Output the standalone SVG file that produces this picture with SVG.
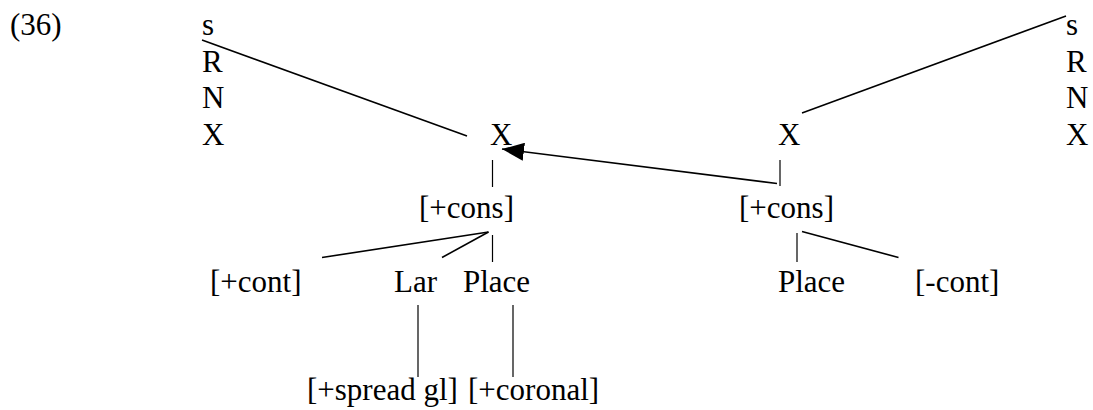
<svg xmlns="http://www.w3.org/2000/svg" width="1093" height="410" viewBox="0 0 1093 410">
  <style>
    text { font-family: "Liberation Serif", "Times New Roman", serif; font-size: 31px; fill: #000; }
    .ln { stroke: #000; stroke-width: 1.6; fill: none; }
    .bar { stroke: #000; stroke-width: 1.2; fill: none; }
  </style>
  <defs>
    <marker id="arrow" markerUnits="userSpaceOnUse" markerWidth="22" markerHeight="18" refX="22" refY="9" orient="auto">
      <path d="M0,0 L22,9 L0,18 z" fill="#000"/>
    </marker>
  </defs>
  <rect width="1093" height="410" fill="#fff"/>
  <text id="label" x="10" y="35" font-size="30">(36)</text>

  <g id="left-column">
    <text x="202" y="35">s</text>
    <text x="202" y="72">R</text>
    <text x="202" y="108">N</text>
    <text x="202" y="145">X</text>
  </g>
  <g id="right-column">
    <text x="1066" y="35">s</text>
    <text x="1066" y="72">R</text>
    <text x="1066" y="108">N</text>
    <text x="1066" y="145">X</text>
  </g>
  <g id="x-left"><text x="490" y="145">X</text></g>
  <g id="x-right"><text x="778" y="145">X</text></g>
  <g id="cons-left"><text x="419" y="218">[+cons]</text></g>
  <g id="cons-right"><text x="739" y="218">[+cons]</text></g>
  <g id="cont-plus"><text x="210" y="292">[+cont]</text></g>
  <g id="lar"><text x="394" y="292">Lar</text></g>
  <g id="place-left"><text x="463" y="292">Place</text></g>
  <g id="place-right"><text x="778" y="292">Place</text></g>
  <g id="cont-minus"><text x="915" y="292">[-cont]</text></g>
  <g id="spread"><text x="307" y="400">[+spread gl]</text></g>
  <g id="coronal"><text x="468" y="400">[+coronal]</text></g>

  <g id="connectors">
    <line class="ln" x1="202" y1="40" x2="467" y2="136"/>
    <line class="ln" x1="1066" y1="16" x2="802" y2="113"/>
    <line class="ln" x1="777" y1="183.5" x2="502" y2="149" marker-end="url(#arrow)"/>
    <line class="bar" x1="492.5" y1="160" x2="492.5" y2="187"/>
    <line class="bar" x1="780" y1="160" x2="780" y2="186"/>
    <line class="ln" x1="488.5" y1="232" x2="322" y2="257.5"/>
    <line class="ln" x1="488.5" y1="232" x2="442" y2="257.5"/>
    <line class="bar" x1="492.5" y1="235" x2="492.5" y2="262"/>
    <line class="bar" x1="797" y1="233" x2="797" y2="262"/>
    <line class="ln" x1="802" y1="231.5" x2="898.5" y2="257.5"/>
    <line class="bar" x1="418" y1="305" x2="418" y2="377"/>
    <line class="bar" x1="513" y1="305" x2="513" y2="377"/>
  </g>
</svg>
